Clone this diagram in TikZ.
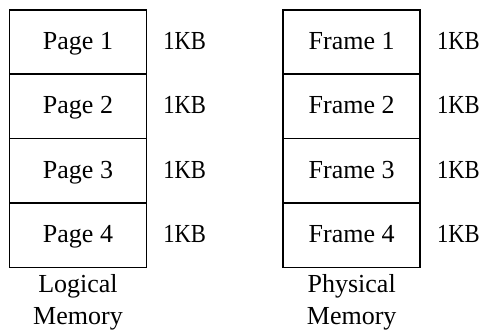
\documentclass[tikz,border=0pt]{standalone}
\usepackage{fontspec}
\usepackage{graphicx}
\setmainfont{Liberation Serif}
\usetikzlibrary{positioning}

\begin{document}
\begin{tikzpicture}[x=0.5pt,y=-0.5pt,
  font=\fontsize{13}{15.8}\selectfont,
  cell/.style={draw,line width=0.75pt,minimum width=68.5pt,minimum height=32.2pt,
    inner sep=0pt,outer sep=0pt,text height=9.5pt,text depth=2.2pt},
  size/.style={inner sep=0pt,anchor=base west}]
  \useasboundingbox (0,0) rectangle (480,329);

  % 逻辑内存(左列)
  \node[cell] (p1) at (78,42) {Page 1};
  \foreach \i [count=\j from 2] in {1,2,3}
    \node[cell,below=0pt of p\i] (p\j) {Page \j};

  % 物理内存(右列)
  \node[cell] (f1) at (351.7,42) {Frame 1};
  \foreach \i [count=\j from 2] in {1,2,3}
    \node[cell,below=0pt of f\i] (f\j) {Frame \j};

  % 每块大小
  \foreach \n in {p,f}
    \foreach \i in {1,...,4}
      \node[size] (\n kb\i) at ([xshift=8.2pt]\n\i.base east)
        {\scalebox{0.87}[1]{1KB}};

  % 标题
  \node[align=center,below=0pt of p4] (lmem) {Logical\\Memory};
  \node[align=center,below=0pt of f4] (pmem) {Physical\\Memory};
\end{tikzpicture}
\end{document}
